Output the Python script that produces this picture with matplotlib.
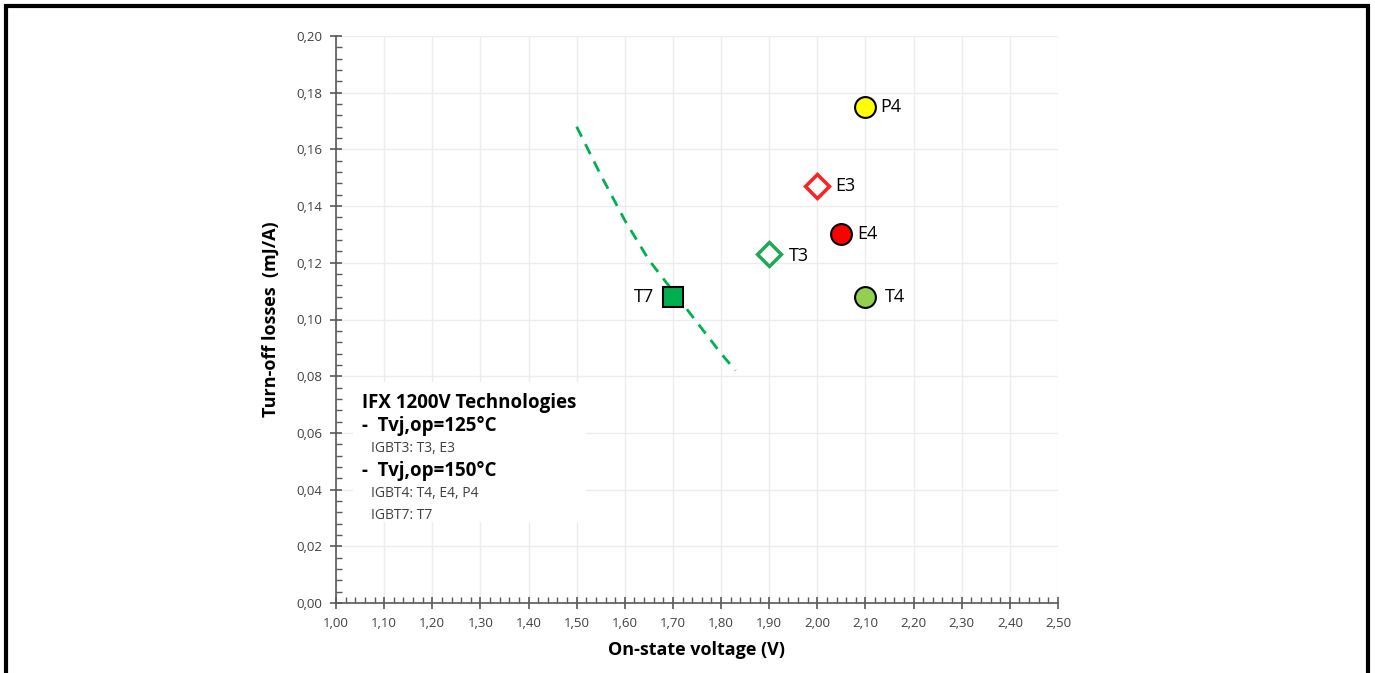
import matplotlib.pyplot as plt
from matplotlib.ticker import MultipleLocator, FuncFormatter
from matplotlib.patches import Rectangle

plt.rcParams['font.family'] = ['Open Sans', 'DejaVu Sans']

# data points
names = ["P4", "E3", "E4", "T3", "T4", "T7"]
volts = [2.10, 2.00, 2.05, 1.90, 2.10, 1.70]
losses = [0.175, 0.147, 0.130, 0.123, 0.108, 0.108]
markers = ["o", "D", "o", "D", "o", "s"]
faces = ["#FFFF00", "white", "#FF0000", "white", "#92D050", "#00B050"]
edges = ["black", "#FF2020", "black", "#1FA855", "black", "black"]

# dashed trend line
trend_x = [1.50, 1.55, 1.60, 1.65, 1.70, 1.75, 1.80, 1.83]
trend_y = [0.168, 0.151, 0.135, 0.121, 0.110, 0.099, 0.088, 0.082]

fig = plt.figure(figsize=(13.75, 6.73), dpi=100)
ax = fig.add_axes([336/1375, 1-603/673, (1058-336)/1375, (603-36)/673])

# frame round the whole picture
fig.patches.append(Rectangle((6/1375, -0.05), (1368-6)/1375, 1-6/673+0.05,
                             transform=fig.transFigure, fill=False,
                             edgecolor="black", linewidth=3))

ax.plot(trend_x, trend_y, color="#00B050", linestyle=(0, (4, 3)), linewidth=2, zorder=2)

for i in range(len(names)):
    ms = 15 if markers[i] == "o" else (12 if markers[i] == "D" else 14)
    mew = 1.5 if faces[i] != "white" else 2.5
    ax.plot(volts[i], losses[i], marker=markers[i], markersize=ms,
            markerfacecolor=faces[i], markeredgecolor=edges[i],
            markeredgewidth=mew, linestyle="none", zorder=3)

label_pos = {"P4": (0.03, 0), "E3": (0.037, 0), "E4": (0.033, 0),
             "T3": (0.04, -0.0005), "T4": (0.04, 0), "T7": (-0.04, 0)}
for n, x, y in zip(names, volts, losses):
    dx, dy = label_pos[n]
    ax.text(x + dx, y + dy, n, fontsize=13, va="center",
            ha="right" if dx < 0 else "left", zorder=4)

ax.set_xlim(1.0, 2.5)
ax.set_ylim(0.0, 0.2)
ax.xaxis.set_major_locator(MultipleLocator(0.1))
ax.xaxis.set_minor_locator(MultipleLocator(0.02))
ax.yaxis.set_major_locator(MultipleLocator(0.02))
ax.yaxis.set_minor_locator(MultipleLocator(0.004))
fmt = FuncFormatter(lambda v, p: f"{v:.2f}".replace(".", ","))
ax.xaxis.set_major_formatter(fmt)
ax.yaxis.set_major_formatter(fmt)

ax.grid(True, which="major", color="#EDEDED", linewidth=1, zorder=0)
ax.set_axisbelow(True)
for s in ["top", "right"]:
    ax.spines[s].set_visible(False)
for s in ["left", "bottom"]:
    ax.spines[s].set_color("#595959")
    ax.spines[s].set_linewidth(1.2)
ax.tick_params(which="major", direction="inout", length=8, width=1.2,
               color="#595959", labelsize=9.5, labelcolor="#404040", pad=6)
ax.tick_params(which="minor", direction="in", length=4, width=1, color="#595959")

ax.set_xlabel("On-state voltage (V)", fontsize=13, fontweight="bold", labelpad=8)
ax.set_ylabel("Turn-off losses  (mJ/A)", fontsize=13, fontweight="bold", labelpad=12)

# text box
ax.add_patch(Rectangle((1.035, 0.0285), 0.485, 0.0495, facecolor="white",
                       edgecolor="none", zorder=1))
tx = 1.055
ax.text(tx, 0.0705, "IFX 1200V Technologies", fontsize=13.5, fontweight="bold",
        va="center", zorder=5)
ax.text(tx, 0.0625, "-  Tvj,op=125°C", fontsize=13.5, fontweight="bold",
        va="center", zorder=5)
ax.text(tx + 0.017, 0.0545, "IGBT3: T3, E3", fontsize=10, color="#404040",
        va="center", zorder=5)
ax.text(tx, 0.0465, "-  Tvj,op=150°C", fontsize=13.5, fontweight="bold",
        va="center", zorder=5)
ax.text(tx + 0.017, 0.0385, "IGBT4: T4, E4, P4", fontsize=10, color="#404040",
        va="center", zorder=5)
ax.text(tx + 0.017, 0.031, "IGBT7: T7", fontsize=10, color="#404040",
        va="center", zorder=5)

fig.savefig("out.png", dpi=100)
